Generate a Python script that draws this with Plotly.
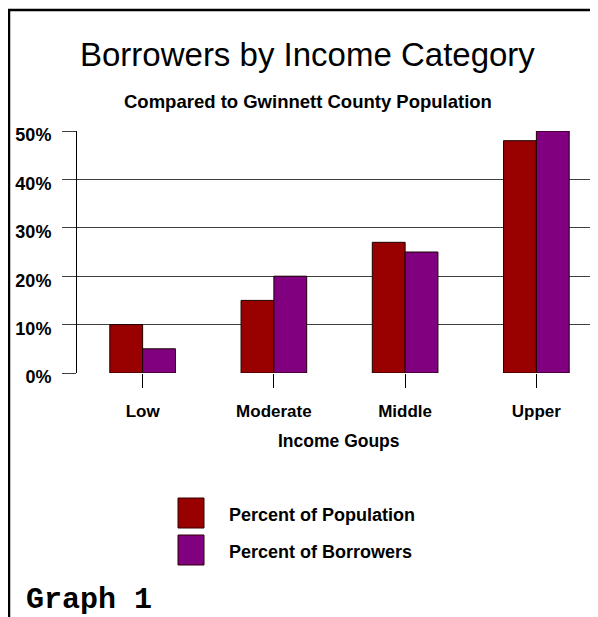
import plotly.graph_objects as go

# ---- data ----
categories = ["Low", "Moderate", "Middle", "Upper"]
pct_population = [10, 15, 27, 48]
pct_borrowers = [5, 20, 25, 50]
series_names = ["Percent of Population", "Percent of Borrowers"]
series_colors = ["#990000", "#800080"]
y_ticks = [0, 10, 20, 30, 40, 50]
y_tick_labels = ["0%", "10%", "20%", "30%", "40%", "50%"]
title_text = "Borrowers by Income Category"
subtitle_text = "Compared to Gwinnett County Population"
x_title_text = "Income Goups"
footer_text = "Graph 1"

OFF = 8  # page body margin
W, H = 598 - OFF, 617 - OFF
L, R, T, B = 77 - OFF, 0, 131 - OFF, 617 - 373
PW, PH = W - L - R, H - T - B

def px_x(x):
    return (x - OFF - L) / PW

def px_y(y):
    return (H - B - (y - OFF)) / PH

FONT = "Liberation Sans, Arial, sans-serif"

fig = go.Figure()
for name, vals, col in zip(series_names, [pct_population, pct_borrowers], series_colors):
    fig.add_trace(go.Bar(
        x=categories, y=vals, name=name,
        marker=dict(color=col, line=dict(color="#1a0000", width=1)),
        showlegend=False,
    ))

fig.update_layout(
    width=W, height=H,
    margin=dict(l=L, r=R, t=T, b=B, pad=0),
    paper_bgcolor="white", plot_bgcolor="white",
    barmode="group", bargap=0.5, bargroupgap=0,
    font=dict(family=FONT, color="black"),
    xaxis=dict(
        range=[-0.5, -0.5 + PW / 131.25],
        showgrid=False, showline=False, zeroline=False,
        ticks="outside", ticklen=14, tickcolor="black", tickwidth=1,
        tickfont=dict(size=17, weight="bold"),
        ticklabelstandoff=9,
    ),
    yaxis=dict(
        range=[0, 50], tickvals=y_ticks, ticktext=y_tick_labels,
        showgrid=True, gridcolor="#404040", gridwidth=1,
        showline=True, linecolor="black", linewidth=1,
        zeroline=False,
        ticks="outside", ticklen=14, tickcolor="#404040", tickwidth=1,
        tickfont=dict(size=18, weight="bold"),
        ticklabelstandoff=7,
        ticklabelshift=4,
    ),
)

shapes = []
# frame
shapes.append(dict(type="line", xref="paper", yref="paper",
                   x0=px_x(9), x1=px_x(9), y0=px_y(9), y1=px_y(617 + 5),
                   line=dict(color="black", width=2.5)))
shapes.append(dict(type="line", xref="paper", yref="paper",
                   x0=px_x(8), x1=px_x(598 + 5), y0=px_y(10), y1=px_y(10),
                   line=dict(color="black", width=2.5)))
# legend swatches
legend_rows = [513, 550]
for yc, col in zip(legend_rows, series_colors):
    shapes.append(dict(type="rect", xref="paper", yref="paper",
                       x0=px_x(178), x1=px_x(204), y0=px_y(yc - 15), y1=px_y(yc + 15),
                       fillcolor=col, line=dict(color="#330000", width=1)))
fig.update_layout(shapes=shapes)

ann = []
ann.append(dict(text=title_text, xref="paper", yref="paper",
                x=px_x(307.5), y=px_y(55), xanchor="center", yanchor="middle",
                showarrow=False, font=dict(size=33, family=FONT)))
ann.append(dict(text=subtitle_text, xref="paper", yref="paper",
                x=px_x(307.5), y=px_y(101), xanchor="center", yanchor="middle",
                showarrow=False, font=dict(size=18.5, family=FONT, weight="bold")))
ann.append(dict(text=x_title_text, xref="paper", yref="paper",
                x=px_x(339), y=px_y(441), xanchor="center", yanchor="middle",
                showarrow=False, font=dict(size=17.5, family=FONT, weight="bold")))
for yc, name in zip(legend_rows, series_names):
    ann.append(dict(text=name, xref="paper", yref="paper",
                    x=px_x(227), y=px_y(yc + 2), xanchor="left", yanchor="middle",
                    showarrow=False, font=dict(size=18, family=FONT, weight="bold")))
ann.append(dict(text=footer_text, xref="paper", yref="paper",
                x=px_x(24), y=px_y(600), xanchor="left", yanchor="middle",
                showarrow=False,
                font=dict(size=30, family="Liberation Mono, Courier New, monospace", weight="bold")))
fig.update_layout(annotations=ann)

fig.write_html("out.html")
